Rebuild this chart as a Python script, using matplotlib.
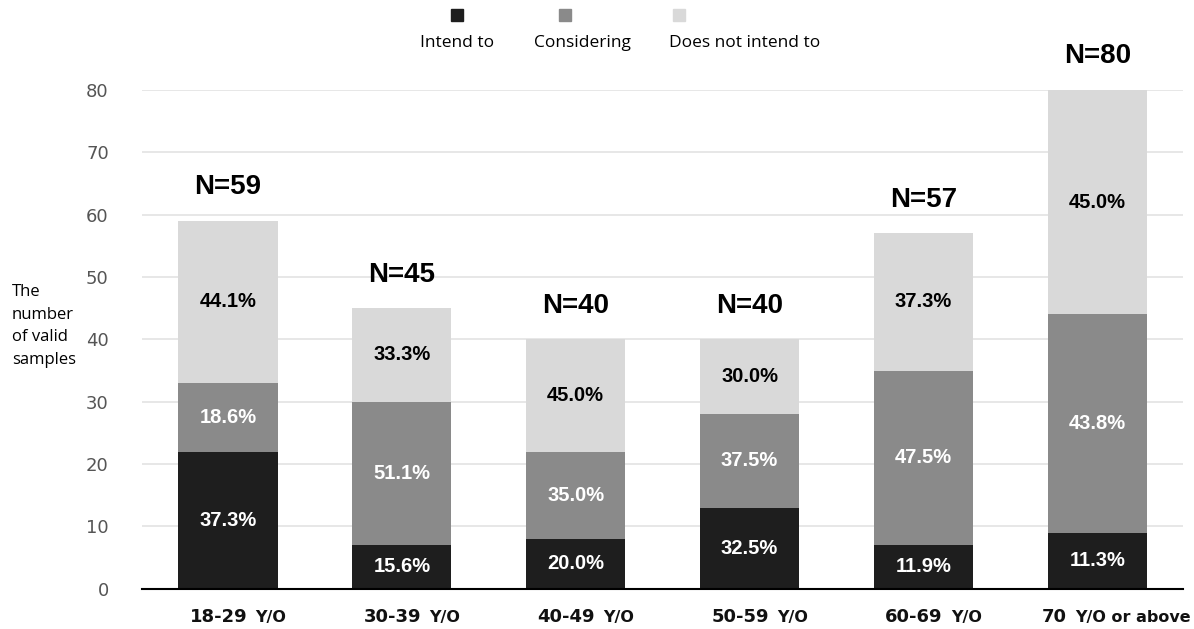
import matplotlib
matplotlib.use("Agg")
import matplotlib.pyplot as plt
from matplotlib.patches import Rectangle
from matplotlib.offsetbox import TextArea, HPacker, AnnotationBbox
import numpy as np

# survey counts per age group
age_groups = ["18-29", "30-39", "40-49", "50-59", "60-69", "70"]
age_suffix = ["Y/O", "Y/O", "Y/O", "Y/O", "Y/O", "Y/O or above"]
intend = [22, 7, 8, 13, 7, 9]
considering = [11, 23, 14, 15, 28, 35]
not_intend = [26, 15, 18, 12, 22, 36]

intend_pct = ["37.3%", "15.6%", "20.0%", "32.5%", "11.9%", "11.3%"]
considering_pct = ["18.6%", "51.1%", "35.0%", "37.5%", "47.5%", "43.8%"]
not_intend_pct = ["44.1%", "33.3%", "45.0%", "30.0%", "37.3%", "45.0%"]

series_names = ["Intend to", "Considering", "Does not intend to"]
colors = ["#1e1e1e", "#8a8a8a", "#d9d9d9"]
text_colors = ["white", "white", "black"]

fig = plt.figure(figsize=(11.94, 6.29), dpi=100)
ax = fig.add_axes([0.119, 0.064, 0.872, 0.793])

x = np.arange(len(age_groups))
width = 0.57
bottom = np.zeros(len(x))
for vals, pcts, color, tcol in zip(
        [intend, considering, not_intend],
        [intend_pct, considering_pct, not_intend_pct],
        colors, text_colors):
    vals = np.array(vals, dtype=float)
    ax.bar(x, vals, width, bottom=bottom, color=color, zorder=3)
    for xi, b, v, p in zip(x, bottom, vals, pcts):
        ax.text(xi, b + v / 2, p, ha="center", va="center", color=tcol,
                fontsize=14.5, fontweight="bold", family="Liberation Sans", zorder=4)
    bottom += vals

for xi, total in zip(x, bottom):
    ax.text(xi, total + 3.3, f"N={int(total)}", ha="center", va="bottom",
            fontsize=20, fontweight="bold", family="Liberation Sans")

ax.set_xlim(-0.494, 5.494)
ax.set_ylim(0, 80)
ax.set_yticks(range(0, 81, 10))
ax.tick_params(axis="y", length=0, pad=24, labelsize=13, labelcolor="#555555")
ax.set_xticks(x)
ax.set_xticklabels([])
ax.tick_params(axis="x", length=0)

# age labels: bold number followed by a smaller "Y/O" part
for i, (xi, g, suf) in enumerate(zip(x, age_groups, age_suffix)):
    num = TextArea(g, textprops=dict(fontsize=13, fontweight="bold",
                                     family="DejaVu Sans", color="#111111"))
    tail = TextArea(suf, textprops=dict(fontsize=11.5, fontweight="bold",
                                        family="DejaVu Sans", color="#111111"))
    pack = HPacker(children=[num, tail], align="baseline", pad=0, sep=6)
    dx = 13.5 if i == len(x) - 1 else 7.2
    ab = AnnotationBbox(pack, (xi, 0), xycoords=("data", "axes fraction"),
                        xybox=(dx, -20), boxcoords="offset points",
                        box_alignment=(0.5, 0.5), frameon=False,
                        annotation_clip=False)
    ax.add_artist(ab)

ax.grid(axis="y", color="#e3e3e3", linewidth=1.2, zorder=0)
for side in ("top", "right", "left"):
    ax.spines[side].set_visible(False)
ax.spines["bottom"].set_linewidth(1.5)
ax.spines["bottom"].set_zorder(5)

fig.text(0.010, 0.482, "The\nnumber\nof valid\nsamples", ha="left", va="center",
         fontsize=12, linespacing=1.55, family="Open Sans")

# legend: small squares above the series names
legend_sq = [0.383, 0.473, 0.569]
legend_txt = [0.383, 0.488, 0.624]
for sx, tx, name, color in zip(legend_sq, legend_txt, series_names, colors):
    fig.patches.append(Rectangle((sx - 0.005, 0.966), 0.010, 0.019,
                                 transform=fig.transFigure, color=color))
    fig.text(tx, 0.932, name, ha="center", va="center", fontsize=12.5,
             family="Open Sans")

fig.savefig("out.png", dpi=100)
